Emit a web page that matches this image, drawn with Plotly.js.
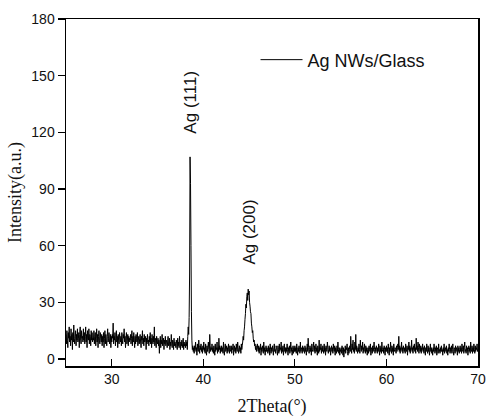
<!DOCTYPE html>
<html>
<head>
<meta charset="utf-8">
<script src="https://cdn.plot.ly/plotly-3.0.1.min.js"></script>
<style>html,body{margin:0;padding:0;background:#fff;}#chart{width:487px;height:418px;}</style>
</head>
<body>
<div id="chart"></div>
<script>
// 2Theta scan: start angle and step (degrees)
const thetaStart = 25;
const thetaStep = 0.05;

// Intensity (a.u.), one row per degree (25.00 ... 70.00)
const intensity = [
  13,8,15,10,6,14,11,17,9,12,7,16,10,13,5,14,9,18,11,8,        // 25
  12,15,7,13,10,16,9,11,14,6,13,17,10,8,15,11,12,9,16,10,      // 26
  14,8,12,17,9,13,6,15,11,10,16,8,13,12,7,15,10,14,9,11,       // 27
  10,15,8,12,14,7,11,16,9,13,6,12,15,10,8,14,11,9,13,7,        // 28
  12,9,14,6,11,15,8,13,10,7,12,16,9,11,14,8,10,13,6,12,        // 29
  9,13,11,19,8,12,10,14,7,11,15,9,12,6,13,10,8,14,11,9,        // 30
  12,7,14,10,8,13,11,16,9,12,6,11,14,8,10,13,7,12,9,11,        // 31
  10,13,8,11,15,7,12,9,14,10,6,12,8,13,11,9,14,7,10,12,        // 32
  8,11,13,9,6,12,10,15,8,11,7,13,9,10,12,5,11,8,13,9,          // 33
  10,7,12,9,14,8,11,6,13,10,8,12,9,17,7,11,10,6,12,9,          // 34
  8,11,7,10,3,9,12,6,10,8,13,7,9,11,5,10,8,12,7,9,             // 35
  10,6,9,12,7,8,11,5,9,7,13,8,6,10,9,5,11,7,9,8,               // 36
  6,10,8,5,11,7,9,6,12,8,5,9,7,10,6,8,11,5,9,7,                // 37
  8,6,10,7,9,5,12,17,13,22,45,107,93,60,25,10,5,7,4,6,         // 38
  3,7,5,9,4,6,2,8,5,4,10,6,3,7,5,8,4,6,3,7,                    // 39
  5,9,4,6,3,8,5,2,7,4,6,9,5,3,13,7,4,6,5,8,                    // 40
  4,6,3,7,5,2,8,4,6,5,9,3,6,4,11,5,7,3,6,4,                    // 41
  7,4,6,3,9,5,2,6,8,4,5,7,3,6,4,8,5,3,7,5,                     // 42
  4,7,3,6,5,8,2,5,7,4,6,3,8,5,4,9,6,3,5,7,                     // 43
  4,6,3,8,5,7,9,12,10,15,17,21,24,29,27,33,35,31,37,34,        // 44
  36,30,28,25,24,19,17,14,15,11,9,10,7,8,5,7,4,6,8,5,          // 45
  4,7,3,6,5,8,2,6,4,7,5,3,9,4,6,2,5,7,4,6,                     // 46
  5,3,7,4,6,2,8,5,3,6,4,7,5,2,6,8,4,5,3,7,                     // 47
  6,4,2,7,5,3,8,4,6,5,9,3,6,4,7,2,5,8,4,6,                     // 48
  3,6,4,8,5,2,6,4,7,3,5,9,4,6,2,5,7,3,6,4,                     // 49
  7,4,6,3,8,5,2,6,4,7,5,3,9,4,6,5,3,7,4,6,                     // 50
  5,3,7,4,6,2,5,8,4,11,6,3,5,7,4,6,2,8,5,4,                    // 51
  6,9,4,7,3,5,8,4,6,2,7,5,3,10,4,6,5,8,3,6,                    // 52
  4,7,5,3,8,4,6,2,7,5,4,9,6,3,5,7,4,6,2,5,                     // 53
  7,4,6,3,8,5,4,7,2,6,5,3,7,4,9,5,3,6,2,5,                     // 54
  4,6,3,7,5,2,6,1,5,4,7,3,6,5,8,4,2,6,3,5,                     // 55
  7,4,12,6,3,8,5,10,4,6,3,9,5,13,4,7,5,3,6,4,                  // 56
  8,5,3,10,6,4,7,5,9,3,6,4,8,5,3,7,4,6,2,5,                    // 57
  6,3,7,5,4,8,2,6,5,3,7,4,6,9,5,3,6,4,7,5,                     // 58
  3,6,4,8,5,2,7,4,6,3,9,5,4,6,3,7,5,2,6,4,                     // 59
  7,4,6,3,8,5,2,6,4,9,5,3,7,4,6,2,8,5,4,6,                     // 60
  5,3,7,4,6,8,5,12,4,7,3,6,5,9,4,6,3,7,5,4,                    // 61
  6,3,8,5,4,7,2,6,5,9,4,7,3,6,5,10,4,6,3,7,                    // 62
  5,8,4,6,3,11,5,7,4,9,6,3,8,5,4,7,3,6,5,8,                    // 63
  4,6,3,7,5,2,6,4,8,5,3,7,4,6,2,5,8,4,6,3,                     // 64
  5,2,6,4,8,5,3,6,4,7,2,5,6,3,8,4,5,3,6,4,                     // 65
  7,4,5,2,6,4,8,3,5,6,4,7,3,5,2,6,4,8,5,3,                     // 66
  6,4,7,3,5,8,4,2,6,5,3,7,4,6,5,2,7,4,6,3,                     // 67
  5,7,4,6,3,8,5,4,7,3,6,9,4,5,3,7,4,6,2,5,                     // 68
  7,4,6,3,9,5,4,7,3,6,4,8,5,3,7,4,6,5,8,4,                     // 69
  5                                                             // 70
];

const seriesName = "Ag NWs/Glass";
const peakLabels = ["Ag (111)", "Ag (200)"];
const peakLabelX = [38.6, 45.0];
const peakLabelY = [136, 67];
const xTicks = [30, 40, 50, 60, 70];
const yTicks = [0, 30, 60, 90, 120, 150, 180];

const twoTheta = intensity.map((_, i) => +(thetaStart + i * thetaStep).toFixed(2));

const trace = {
  x: twoTheta,
  y: intensity,
  type: "scatter",
  mode: "lines",
  name: seriesName,
  line: {color: "#000", width: 1, simplify: false},
  showlegend: true
};

const annotations = peakLabels.map((t, i) => ({
  x: peakLabelX[i], y: peakLabelY[i], xref: "x", yref: "y",
  text: t, showarrow: false, textangle: -90,
  xanchor: "center", yanchor: "middle",
  font: {family: "Liberation Sans, Arial, sans-serif", size: 17, color: "#111"}
}));

const layout = {
  width: 487, height: 418,
  margin: {l: 66, r: 9, t: 19, b: 52},
  paper_bgcolor: "#fff", plot_bgcolor: "#fff",
  showlegend: true,
  legend: {
    x: 0.46, y: 0.882, xanchor: "left", yanchor: "middle",
    bgcolor: "rgba(0,0,0,0)", borderwidth: 0,
    font: {family: "Liberation Sans, Arial, sans-serif", size: 18, color: "#111"},
    itemwidth: 42
  },
  xaxis: {
    range: [25, 70], tickvals: xTicks, ticks: "inside", ticklen: 7, tickwidth: 1.2,
    tickcolor: "#000", showline: true, linecolor: "#000", linewidth: 1.5, mirror: true,
    showgrid: false, zeroline: false,
    tickfont: {family: "Liberation Sans, Arial, sans-serif", size: 14, color: "#111"},
    title: {text: "2Theta(°)", font: {family: "Liberation Serif, Times New Roman, serif", size: 18, color: "#111"}, standoff: 13}
  },
  yaxis: {
    range: [-3.7, 180], tickvals: yTicks, ticks: "outside", ticklen: 7, tickwidth: 1.2,
    tickcolor: "#000", showline: true, linecolor: "#000", linewidth: 1.5, mirror: true,
    showgrid: false, zeroline: false,
    tickfont: {family: "Liberation Sans, Arial, sans-serif", size: 14, color: "#111"},
    title: {text: "Intensity(a.u.)", font: {family: "Liberation Serif, Times New Roman, serif", size: 18, color: "#111"}, standoff: 5}
  },
  annotations: annotations
};

Plotly.newPlot("chart", [trace], layout, {displayModeBar: false, staticPlot: true});
</script>
</body>
</html>
